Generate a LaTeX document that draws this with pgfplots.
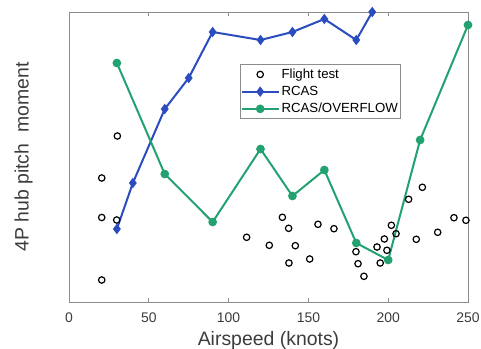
\documentclass[border=0pt]{standalone}
\usepackage{fontspec}
\setmainfont{Liberation Sans}
\usepackage{pgfplots}
\pgfplotsset{compat=1.18}
\definecolor{rcasblue}{RGB}{42,76,190}
\definecolor{ovgreen}{RGB}{34,162,112}
\definecolor{framegray}{RGB}{140,140,140}
\definecolor{labelgray}{RGB}{60,60,60}

\begin{document}
\begin{tikzpicture}
\path[use as bounding box] (-69bp,-47bp) rectangle (412bp,302bp);
\begin{axis}[
  width=399bp, height=290bp, scale only axis,
  xmin=0, xmax=250, ymin=0, ymax=290,
  xtick={0,50,...,250}, ytick=\empty,
  xtick pos=both, xticklabel pos=lower,
  tick align=inside, major tick length=4bp,
  axis line style={framegray, line width=0.8bp},
  every tick/.style={framegray, line width=0.8bp},
  /pgf/number format/assume math mode=true,
  xticklabel style={font=\fontsize{14}{16}\selectfont, text=labelgray,
    anchor=north, inner sep=0pt, yshift=-10.7bp},
  xlabel={Airspeed (knots)},
  ylabel={4P hub pitch\ \ moment},
  label style={font=\fontsize{19.5}{22}\selectfont, text=labelgray},
  xlabel style={at={(axis description cs:0.5,-0.1483)}, anchor=base},
  ylabel style={at={(axis description cs:-0.1015,0.5)}, anchor=base},
  legend style={at={(0.4286,0.8207)}, anchor=north west, draw=framegray,
    line width=0.8bp, font=\fontsize{13.3}{15}\selectfont,
    inner xsep=0.5bp, inner ysep=2.5bp, row sep=2.3bp},
  legend cell align=left,
  legend image code/.code={%
    \draw[mark repeat=2,mark phase=2,#1]
      plot coordinates {(0bp,0bp) (18.3bp,0bp) (36.6bp,0bp)};},
  clip=false,
]
% flight test measurements
\addplot[only marks, mark=o, mark size=3.2bp, line width=1.2bp, black]
coordinates {
  (20.5,84.5) (20.5,124) (30.3,166) (29.9,82) (20.5,22)
  (111.3,64.7) (125.5,56.7) (133.7,84.7) (137.6,73.7) (137.8,39)
  (141.8,56.3) (150.8,43) (156,77.7) (166,73.3)
  (179.8,50.3) (181.1,38.3) (184.8,25.7) (193,55) (195,39)
  (197.6,63) (199.2,51.7) (202,76.7) (204.9,68.3) (212.8,102.7)
  (217.6,62.7) (221.4,114.7) (231,69.7) (241.2,84.3) (248.7,81.7)
};
\addlegendentry{Flight test}
% comprehensive analysis alone
\addplot[rcasblue, line width=2bp, mark=diamond*, mark size=3.6bp,
  mark options={solid, fill=rcasblue}]
coordinates {
  (30,73) (40,119) (60,193) (75,224) (90,270) (120,262)
  (140,270) (160,283) (180,262) (190,290)
};
\addlegendentry{RCAS}
% coupled with CFD
\addplot[ovgreen, line width=2bp, mark=*, mark size=3.3bp,
  mark options={solid, fill=ovgreen}]
coordinates {
  (30,239) (60,128) (90,80) (120,153) (140,106) (160,132)
  (180,59) (200,42) (220,162) (250,277)
};
\addlegendentry{RCAS/OVERFLOW}
\end{axis}
\end{tikzpicture}
\end{document}
